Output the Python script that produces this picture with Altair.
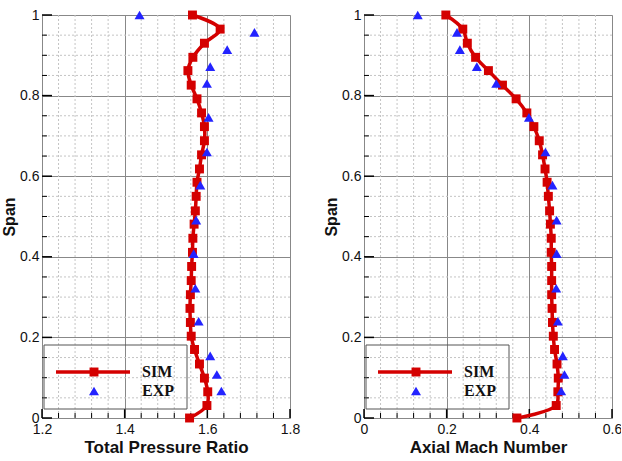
import altair as alt
import pandas as pd

# ---------------- data ----------------
series_names = ["SIM", "EXP"]

span_sim = [1.0, 0.965, 0.93, 0.895, 0.862, 0.826, 0.792, 0.757, 0.723, 0.688,
            0.653, 0.618, 0.585, 0.550, 0.514, 0.481, 0.446, 0.411, 0.376, 0.341,
            0.306, 0.272, 0.237, 0.203, 0.170, 0.134, 0.099, 0.065, 0.031, 0.0]
tpr_sim = [1.564, 1.631, 1.593, 1.565, 1.553, 1.561, 1.575, 1.586, 1.593, 1.593,
           1.586, 1.581, 1.575, 1.573, 1.571, 1.568, 1.565, 1.564, 1.562, 1.561,
           1.559, 1.558, 1.559, 1.561, 1.569, 1.581, 1.593, 1.601, 1.599, 1.557]
mach_sim = [0.198, 0.239, 0.250, 0.270, 0.301, 0.335, 0.368, 0.394, 0.411, 0.424,
            0.432, 0.438, 0.443, 0.446, 0.449, 0.451, 0.453, 0.453, 0.454, 0.454,
            0.454, 0.455, 0.456, 0.458, 0.461, 0.467, 0.470, 0.469, 0.465, 0.370]

span_exp = [1.0, 0.957, 0.914, 0.872, 0.830, 0.746, 0.660, 0.578, 0.491, 0.408,
            0.322, 0.240, 0.154, 0.108, 0.067]
tpr_exp = [1.436, 1.714, 1.648, 1.607, 1.599, 1.603, 1.599, 1.583, 1.573, 1.567,
           1.571, 1.579, 1.607, 1.623, 1.634]
mach_exp = [0.130, 0.225, 0.232, 0.273, 0.320, 0.399, 0.439, 0.456, 0.466, 0.466,
            0.465, 0.469, 0.481, 0.485, 0.477]

span_major = [0, 0.2, 0.4, 0.6, 0.8, 1]
span_minor = [0.05, 0.1, 0.15, 0.25, 0.3, 0.35, 0.45, 0.5, 0.55, 0.65, 0.7, 0.75,
              0.85, 0.9, 0.95]
tpr_major = [1.2, 1.4, 1.6, 1.8]
tpr_minor = [1.24, 1.28, 1.32, 1.36, 1.44, 1.48, 1.52, 1.56, 1.64, 1.68, 1.72, 1.76]
mach_major = [0, 0.2, 0.4, 0.6]
mach_minor = [0.04, 0.08, 0.12, 0.16, 0.24, 0.28, 0.32, 0.36, 0.44, 0.48, 0.52, 0.56]

# ---------------- styling ----------------
W, H = 248, 403
RED = "#d40000"
BLUE = "#2323ff"
FONT = "Liberation Sans"
MAJOR_GRID = "#888888"
MINOR_GRID = "#c4c4c4"


def panel(sim_x, exp_x, domain, xmajor, xminor, xtitle):
    xs = alt.Scale(domain=domain, nice=False, zero=False)
    ys = alt.Scale(domain=[0, 1], nice=False, zero=False)
    xaxis = alt.Axis(values=xmajor, labelExpr="'' + datum.value", grid=True,
                     gridColor=MAJOR_GRID, gridWidth=1, ticks=False, domain=False,
                     labelFlush=False, labelFont=FONT, labelFontSize=14,
                     labelColor="#111", labelPadding=4, titleFont=FONT,
                     titleFontSize=17, titleFontWeight="bold", titleColor="#111",
                     titlePadding=3)
    yaxis = alt.Axis(values=span_major, labelExpr="'' + datum.value", grid=True,
                     gridColor=MAJOR_GRID, gridWidth=1, ticks=False, domain=False,
                     labelFont=FONT, labelFontSize=14, labelColor="#111",
                     labelPadding=3, titleFont=FONT, titleFontSize=16,
                     titleFontWeight="bold", titleColor="#111", titlePadding=2)

    def X():
        return alt.X("x:Q", scale=xs, axis=xaxis, title=xtitle)

    def Y():
        return alt.Y("span:Q", scale=ys, axis=yaxis, title="Span")

    sim = pd.DataFrame({"x": sim_x, "span": span_sim, "i": list(range(len(span_sim)))})
    exp = pd.DataFrame({"x": exp_x, "span": span_exp})
    gx_minor = pd.DataFrame({"x": xminor})
    gy_minor = pd.DataFrame({"span": span_minor})
    gx_major = pd.DataFrame({"x": xmajor})
    gy_major = pd.DataFrame({"span": span_major})
    one = pd.DataFrame({"k": [0]})

    minor_x = alt.Chart(gx_minor).mark_rule(color=MINOR_GRID, strokeDash=[2, 2],
                                            strokeWidth=1).encode(x=X())
    minor_y = alt.Chart(gy_minor).mark_rule(color=MINOR_GRID, strokeDash=[2, 2],
                                            strokeWidth=1).encode(y=Y())
    tick_x_major = alt.Chart(gx_major).mark_rule(color="black", strokeWidth=1.5).encode(
        x=X(), y=alt.value(H), y2=alt.value(H - 9))
    tick_x_minor = alt.Chart(gx_minor).mark_rule(color="black", strokeWidth=1).encode(
        x=X(), y=alt.value(H), y2=alt.value(H - 5))
    tick_y_major = alt.Chart(gy_major).mark_rule(color="black", strokeWidth=1.5).encode(
        y=Y(), x=alt.value(0), x2=alt.value(10))
    tick_y_minor = alt.Chart(gy_minor).mark_rule(color="black", strokeWidth=1).encode(
        y=Y(), x=alt.value(0), x2=alt.value(5))

    line = alt.Chart(sim).mark_line(color=RED, strokeWidth=3.5,
                                    interpolate="catmull-rom").encode(
        x=X(), y=Y(), order="i:Q")
    squares = alt.Chart(sim).mark_point(shape="square", filled=True, size=80,
                                        color=RED, opacity=1).encode(x=X(), y=Y())
    tris = alt.Chart(exp).mark_point(shape="triangle-up", filled=True, size=100,
                                     color=BLUE, opacity=1).encode(x=X(), y=Y())

    # legend box
    box = alt.Chart(one).mark_rect(fillOpacity=0, stroke="#555", strokeWidth=1).encode(
        x=alt.value(2), x2=alt.value(145), y=alt.value(330), y2=alt.value(394))
    leg_line = alt.Chart(one).mark_rule(color=RED, strokeWidth=3.5).encode(
        x=alt.value(14), x2=alt.value(88), y=alt.value(357))
    leg_sq = alt.Chart(one).mark_point(shape="square", filled=True, size=80,
                                       color=RED, opacity=1).encode(
        x=alt.value(52), y=alt.value(357))
    leg_tri = alt.Chart(one).mark_point(shape="triangle-up", filled=True, size=100,
                                        color=BLUE, opacity=1).encode(
        x=alt.value(52), y=alt.value(376))
    leg_t1 = alt.Chart(one).mark_text(align="left", baseline="middle",
                                      font="Liberation Serif", fontWeight="bold",
                                      fontSize=16, color="#111").encode(
        x=alt.value(100), y=alt.value(357), text=alt.value(series_names[0]))
    leg_t2 = alt.Chart(one).mark_text(align="left", baseline="middle",
                                      font="Liberation Serif", fontWeight="bold",
                                      fontSize=16, color="#111").encode(
        x=alt.value(100), y=alt.value(376), text=alt.value(series_names[1]))

    return alt.layer(minor_x, minor_y, tick_x_minor, tick_y_minor, tick_x_major,
                     tick_y_major, box, line, squares, tris, leg_line, leg_sq,
                     leg_tri, leg_t1, leg_t2).properties(width=W, height=H)


left = panel(tpr_sim, tpr_exp, [1.2, 1.8], tpr_major, tpr_minor, "Total Pressure Ratio")
right = panel(mach_sim, mach_exp, [0, 0.6], mach_major, mach_minor, "Axial Mach Number")

chart = alt.hconcat(left, right, spacing=74, bounds="flush").properties(
    padding={"left": 1, "top": 7, "right": -2, "bottom": 0}
).configure_view(stroke="black", strokeWidth=2).configure(background="white")

chart.save("out.html", embed_options={"renderer": "svg", "actions": False})
